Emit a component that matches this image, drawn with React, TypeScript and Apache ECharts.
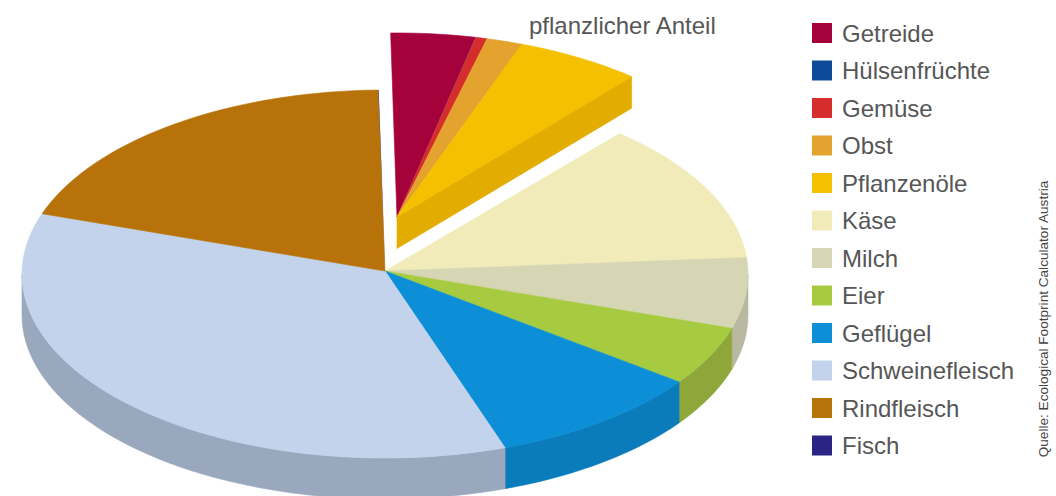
import React, { useEffect, useRef } from "react";
import * as echarts from "echarts";

const categories = ["Getreide", "Hülsenfrüchte", "Gemüse", "Obst", "Pflanzenöle", "Käse", "Milch", "Eier", "Geflügel", "Schweinefleisch", "Rindfleisch", "Fisch"];
const shares = [3.75, 0.02, 0.5, 1.6, 5.6, 12.4, 6.2, 5.2, 9.67, 35.7, 19.4, 0.02];
const topColors = ["#a5023c", "#0d4a9a", "#d42d2c", "#e3a32e", "#f4c000", "#f0ebb8", "#d6d5b4", "#a6cb40", "#0c8fd6", "#c3d3ec", "#b8720a", "#2a2585"];
const wallColors = ["#85002f", "#0a3a7a", "#a82020", "#b88020", "#e3ac00", "#cfca98", "#b9b8a0", "#8ea63a", "#0a7cbc", "#9aa8bd", "#8f5908", "#1e1a60"];
const explodedCategories = ["Getreide", "Hülsenfrüchte", "Gemüse", "Obst", "Pflanzenöle"];

const START_ANGLE = 91;
const DEPTH = 0.223;
const EXPLODED_DEPTH = 0.172;
const EXPLODE_X = 0.033;
const EXPLODE_Y = 0.31;
const APEX_LIFT = 0.016;
const total = shares.reduce((a, b) => a + b, 0);

function startOf(index: number) {
  let sum = 0;
  for (let i = 0; i < index; i++) sum += shares[i];
  return START_ANGLE - (sum / total) * 360;
}

function arcPoints(from: number, to: number, cx: number, cy: number, api: any) {
  const n = Math.max(2, Math.ceil(Math.abs(to - from) / 2));
  const pts: number[][] = [];
  for (let k = 0; k <= n; k++) {
    const t = ((from + ((to - from) * k) / n) * Math.PI) / 180;
    pts.push(api.coord([cx + Math.cos(t), cy + Math.sin(t)]));
  }
  return pts;
}

function makeRenderItem(index: number) {
  return (_params: any, api: any) => {
    const name = categories[index];
    const exploded = explodedCategories.includes(name);
    const cx = exploded ? EXPLODE_X : 0;
    const cy = exploded ? EXPLODE_Y : 0;
    const depth = exploded ? EXPLODED_DEPTH : DEPTH;
    const a0 = startOf(index);
    const a1 = a0 - (api.value(0) / total) * 360;
    const children: any[] = [];
    const fill = topColors[index];
    const wall = wallColors[index];
    const stroke = shares[index] > 0.1 ? 0.6 : 0;
    const poly = (points: number[][], color: string) => ({
      type: "polygon",
      shape: { points },
      style: { fill: color, stroke: stroke ? color : "none", lineWidth: stroke },
    });
    const centre = api.coord([cx, exploded ? cy : cy + APEX_LIFT]);
    const below = (p: number[]) => {
      const o = api.coord([0, 0]);
      const d = api.coord([0, -depth]);
      return [p[0], p[1] + (d[1] - o[1])];
    };
    // outer wall: only the part of the rim that faces the viewer
    if (a0 > -180 && a1 < 0) {
      const rim = arcPoints(Math.min(a0, 0), Math.max(a1, -180), cx, cy, api);
      children.push(poly([...rim, ...rim.slice().reverse().map(below)], wall));
    }
    // cut face of the pulled-out group
    if (name === explodedCategories[explodedCategories.length - 1]) {
      const edge = arcPoints(a1, a1, cx, cy, api)[0];
      children.push(poly([centre, edge, below(edge), below(centre)], wall));
    }
    children.push(poly([centre, ...arcPoints(a0, a1, cx, cy, api)], fill));
    return { type: "group", children };
  };
}

export default function App() {
  const ref = useRef<HTMLDivElement>(null);
  useEffect(() => {
    document.body.style.margin = "0";
    const chart = echarts.init(ref.current!, undefined, { renderer: "svg" });
    const font = "'Liberation Sans', sans-serif";
    chart.setOption({
      animation: false,
      backgroundColor: "#ffffff",
      grid: { left: 22, top: 90, width: 726, height: 368 },
      xAxis: { type: "value", min: -1, max: 1, show: false },
      yAxis: { type: "value", min: -1, max: 1, show: false },
      tooltip: { show: false },
      legend: {
        orient: "vertical",
        left: 812,
        top: 21,
        padding: 0,
        itemWidth: 20,
        itemHeight: 20,
        itemGap: 13.5,
        icon: "rect",
        selectedMode: false,
        data: categories,
        textStyle: { fontFamily: font, fontSize: 24, color: "#565656", padding: [0, 0, 0, 5] },
      },
      series: categories.map((name, i) => ({
        type: "custom",
        name,
        coordinateSystem: "cartesian2d",
        z: explodedCategories.includes(name) ? 3 : 2,
        silent: true,
        itemStyle: { color: topColors[i] },
        data: [[shares[i]]],
        encode: { x: 0 },
        renderItem: makeRenderItem(i),
      })),
      graphic: [
        {
          type: "text",
          x: 529,
          y: 25,
          style: { text: "pflanzlicher Anteil", fontFamily: font, fontSize: 24, fill: "#565656", textAlign: "left", textVerticalAlign: "middle" },
        },
        {
          type: "text",
          x: 1043,
          y: 319,
          rotation: Math.PI / 2,
          style: { text: "Quelle: Ecological Footprint Calculator Austria", fontFamily: font, fontSize: 13.6, fill: "#444444", textAlign: "center", textVerticalAlign: "middle" },
        },
      ],
    });
    return () => chart.dispose();
  }, []);
  return <div ref={ref} style={{ width: 1056, height: 496 }} />;
}
